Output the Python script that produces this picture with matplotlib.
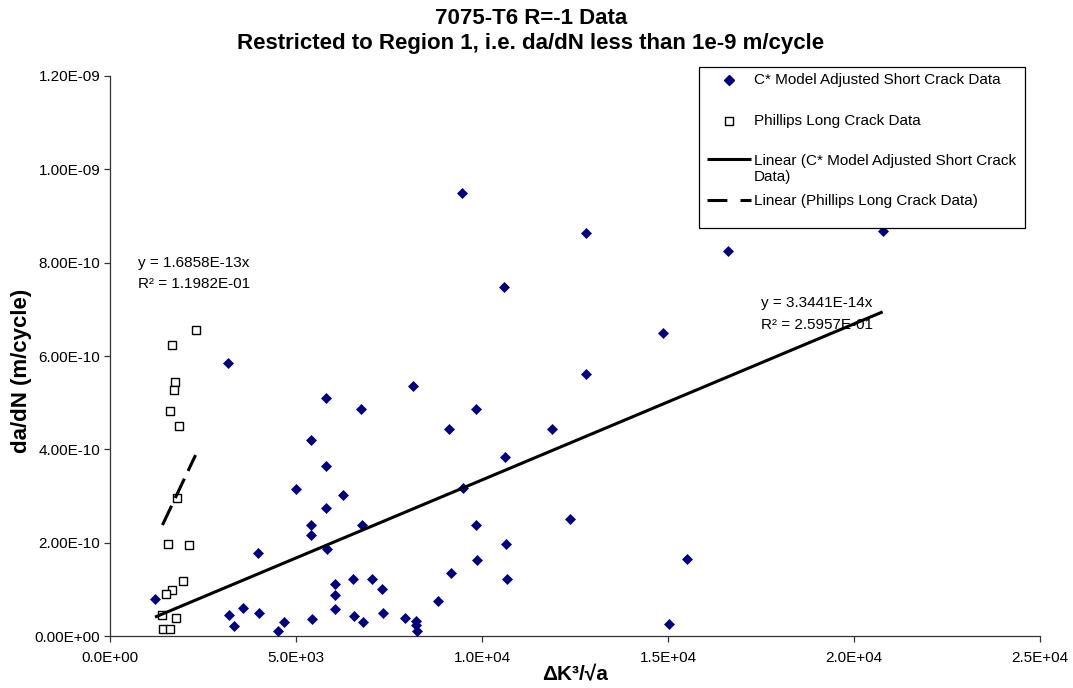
import matplotlib
matplotlib.use("Agg")
import matplotlib.pyplot as plt
from matplotlib.lines import Line2D
from matplotlib.patches import Rectangle
from matplotlib.ticker import FuncFormatter, MultipleLocator
import numpy as np

plt.rcParams['font.family'] = ['Liberation Sans', 'DejaVu Sans']

# ---------------- data ----------------
short_x = [1.21e3, 3.18e3, 5.80e3, 8.15e3, 6.76e3, 9.84e3, 9.12e3, 5.39e3, 5.81e3, 5.00e3,
           6.27e3, 9.49e3, 5.81e3, 5.40e3, 6.77e3, 9.85e3, 5.40e3, 5.82e3, 3.99e3, 9.87e3,
           9.18e3, 6.06e3, 6.54e3, 7.04e3, 7.32e3, 6.06e3, 8.83e3, 3.20e3, 3.58e3, 4.01e3,
           6.06e3, 7.33e3, 3.33e3, 4.52e3, 4.68e3, 5.44e3, 6.55e3, 6.81e3, 7.92e3, 8.23e3,
           8.23e3, 8.25e3, 12.79e3, 16.60e3, 10.59e3, 14.86e3, 12.80e3, 11.88e3, 10.62e3, 12.36e3,
           10.65e3, 15.50e3, 10.66e3, 15.03e3, 9.45e3, 20.77e3]
short_y = [0.79, 5.86, 5.10, 5.35, 4.86, 4.87, 4.43, 4.20, 3.64, 3.16,
           3.02, 3.17, 2.74, 2.38, 2.38, 2.38, 2.16, 1.87, 1.78, 1.63,
           1.34, 1.11, 1.23, 1.23, 1.01, 0.87, 0.76, 0.46, 0.60, 0.50,
           0.57, 0.50, 0.21, 0.11, 0.31, 0.36, 0.42, 0.29, 0.39, 0.32,
           0.24, 0.11, 8.64, 8.25, 7.48, 6.50, 5.62, 4.43, 3.84, 2.50,
           1.97, 1.64, 1.22, 0.26, 9.49, 8.67]  # x1e-10 m/cycle

long_x = [2.30e3, 1.68e3, 1.74e3, 1.71e3, 1.60e3, 1.85e3, 1.81e3, 1.57e3, 2.12e3, 1.96e3,
          1.67e3, 1.50e3, 1.41e3, 1.77e3, 1.43e3, 1.61e3]
long_y = [6.56, 6.23, 5.44, 5.27, 4.82, 4.50, 2.96, 1.97, 1.94, 1.17,
          0.98, 0.91, 0.46, 0.39, 0.14, 0.14]  # x1e-10 m/cycle

short_slope = 3.3441e-14
long_slope = 1.6858e-13
short_eq = "y = 3.3441E-14x"
short_r2 = "R² = 2.5957E-01"
long_eq = "y = 1.6858E-13x"
long_r2 = "R² = 1.1982E-01"

series_labels = ["C* Model Adjusted Short Crack Data",
                 "Phillips Long Crack Data",
                 "Linear (C* Model Adjusted Short Crack\nData)",
                 "Linear (Phillips Long Crack Data)"]

title_lines = ["7075-T6 R=-1 Data",
               "Restricted to Region 1, i.e. da/dN less than 1e-9 m/cycle"]
xlabel = "ΔK³/√a"
ylabel = "da/dN (m/cycle)"

# ---------------- figure ----------------
W, H = 1073, 688
fig = plt.figure(figsize=(W / 100, H / 100), dpi=100)

def fx(px):
    return px / W

def fy(py):
    return 1 - py / H

ax = fig.add_axes([fx(110), fy(636), fx(1040) - fx(110), fy(76) - fy(636)])

sx = np.array(short_x)
sy = np.array(short_y) * 1e-10
lx = np.array(long_x)
ly = np.array(long_y) * 1e-10

navy = '#000080'
ax.plot(sx, sy, linestyle='none', marker='D', markersize=4.6,
        markerfacecolor=navy, markeredgecolor=navy, markeredgewidth=0.5, zorder=3)
ax.plot(lx, ly, linestyle='none', marker='s', markersize=5.6,
        markerfacecolor='white', markeredgecolor='black', markeredgewidth=1.0, zorder=3)

# trend lines through origin
tx = np.array([sx.min(), sx.max()])
ax.plot(tx, short_slope * tx, color='black', linewidth=2.2, solid_capstyle='butt', zorder=4)
tlx = np.array([lx.min(), lx.max()])
ax.plot(tlx, long_slope * tlx, color='black', linewidth=2.2, dashes=(7, 2.8),
        dash_capstyle='butt', zorder=4)

ax.set_xlim(0, 2.5e4)
ax.set_ylim(0, 1.2e-9)
ax.xaxis.set_major_locator(MultipleLocator(5e3))
ax.yaxis.set_major_locator(MultipleLocator(2e-10))
ax.xaxis.set_major_formatter(FuncFormatter(lambda v, p: f"{v:.1E}"))
ax.yaxis.set_major_formatter(FuncFormatter(lambda v, p: f"{v:.2E}"))

for s in ['top', 'right']:
    ax.spines[s].set_visible(False)
for s in ['left', 'bottom']:
    ax.spines[s].set_linewidth(0.9)
    ax.spines[s].set_color('#333333')
ax.tick_params(axis='both', direction='out', length=4, width=0.9, color='#333333',
               labelsize=11, pad=3)
ax.tick_params(axis='x', pad=7)

fig.text(fx(575), fy(675), xlabel, ha='center', va='center', fontsize=15, fontweight='bold')
fig.text(fx(22), fy(371), ylabel, ha='center', va='center', rotation=90,
         fontsize=16, fontweight='bold')

fig.text(fx(531), fy(18), title_lines[0], ha='center', va='center', fontsize=16,
         fontweight='bold')
fig.text(fx(531), fy(43), title_lines[1], ha='center', va='center', fontsize=16,
         fontweight='bold')

# trend line equations
fig.text(fx(138), fy(263), long_eq, ha='left', va='center', fontsize=11)
fig.text(fx(138), fy(284), long_r2, ha='left', va='center', fontsize=11)
fig.text(fx(761), fy(303), short_eq, ha='left', va='center', fontsize=11)
fig.text(fx(761), fy(325), short_r2, ha='left', va='center', fontsize=11)

# legend (drawn manually to match layout)
fig.add_artist(Rectangle((fx(699), fy(228)), fx(1025) - fx(699), fy(67) - fy(228),
                         transform=fig.transFigure, facecolor='white',
                         edgecolor='black', linewidth=0.9, zorder=5))
fig.add_artist(Line2D([fx(729)], [fy(80)], transform=fig.transFigure, marker='D',
                      markersize=4.6, markerfacecolor=navy, markeredgecolor=navy,
                      linestyle='none', zorder=6))
fig.add_artist(Line2D([fx(729)], [fy(121)], transform=fig.transFigure, marker='s',
                      markersize=5.2, markerfacecolor='white', markeredgecolor='black',
                      markeredgewidth=1.0, linestyle='none', zorder=6))
fig.add_artist(Line2D([fx(707), fx(751)], [fy(159), fy(159)], transform=fig.transFigure,
                      color='black', linewidth=2.2, solid_capstyle='butt', zorder=6))
fig.add_artist(Line2D([fx(707), fx(751)], [fy(200), fy(200)], transform=fig.transFigure,
                      color='black', linewidth=2.2, dashes=(6.5, 4.3), dash_capstyle='butt',
                      zorder=6))
fig.text(fx(754), fy(80), series_labels[0], ha='left', va='center', fontsize=11, zorder=7)
fig.text(fx(754), fy(121), series_labels[1], ha='left', va='center', fontsize=11, zorder=7)
fig.text(fx(754), fy(169), series_labels[2], ha='left', va='center', fontsize=11, zorder=7,
         linespacing=1.1)
fig.text(fx(754), fy(201), series_labels[3], ha='left', va='center', fontsize=11, zorder=7)

fig.savefig("out.png", dpi=100)
